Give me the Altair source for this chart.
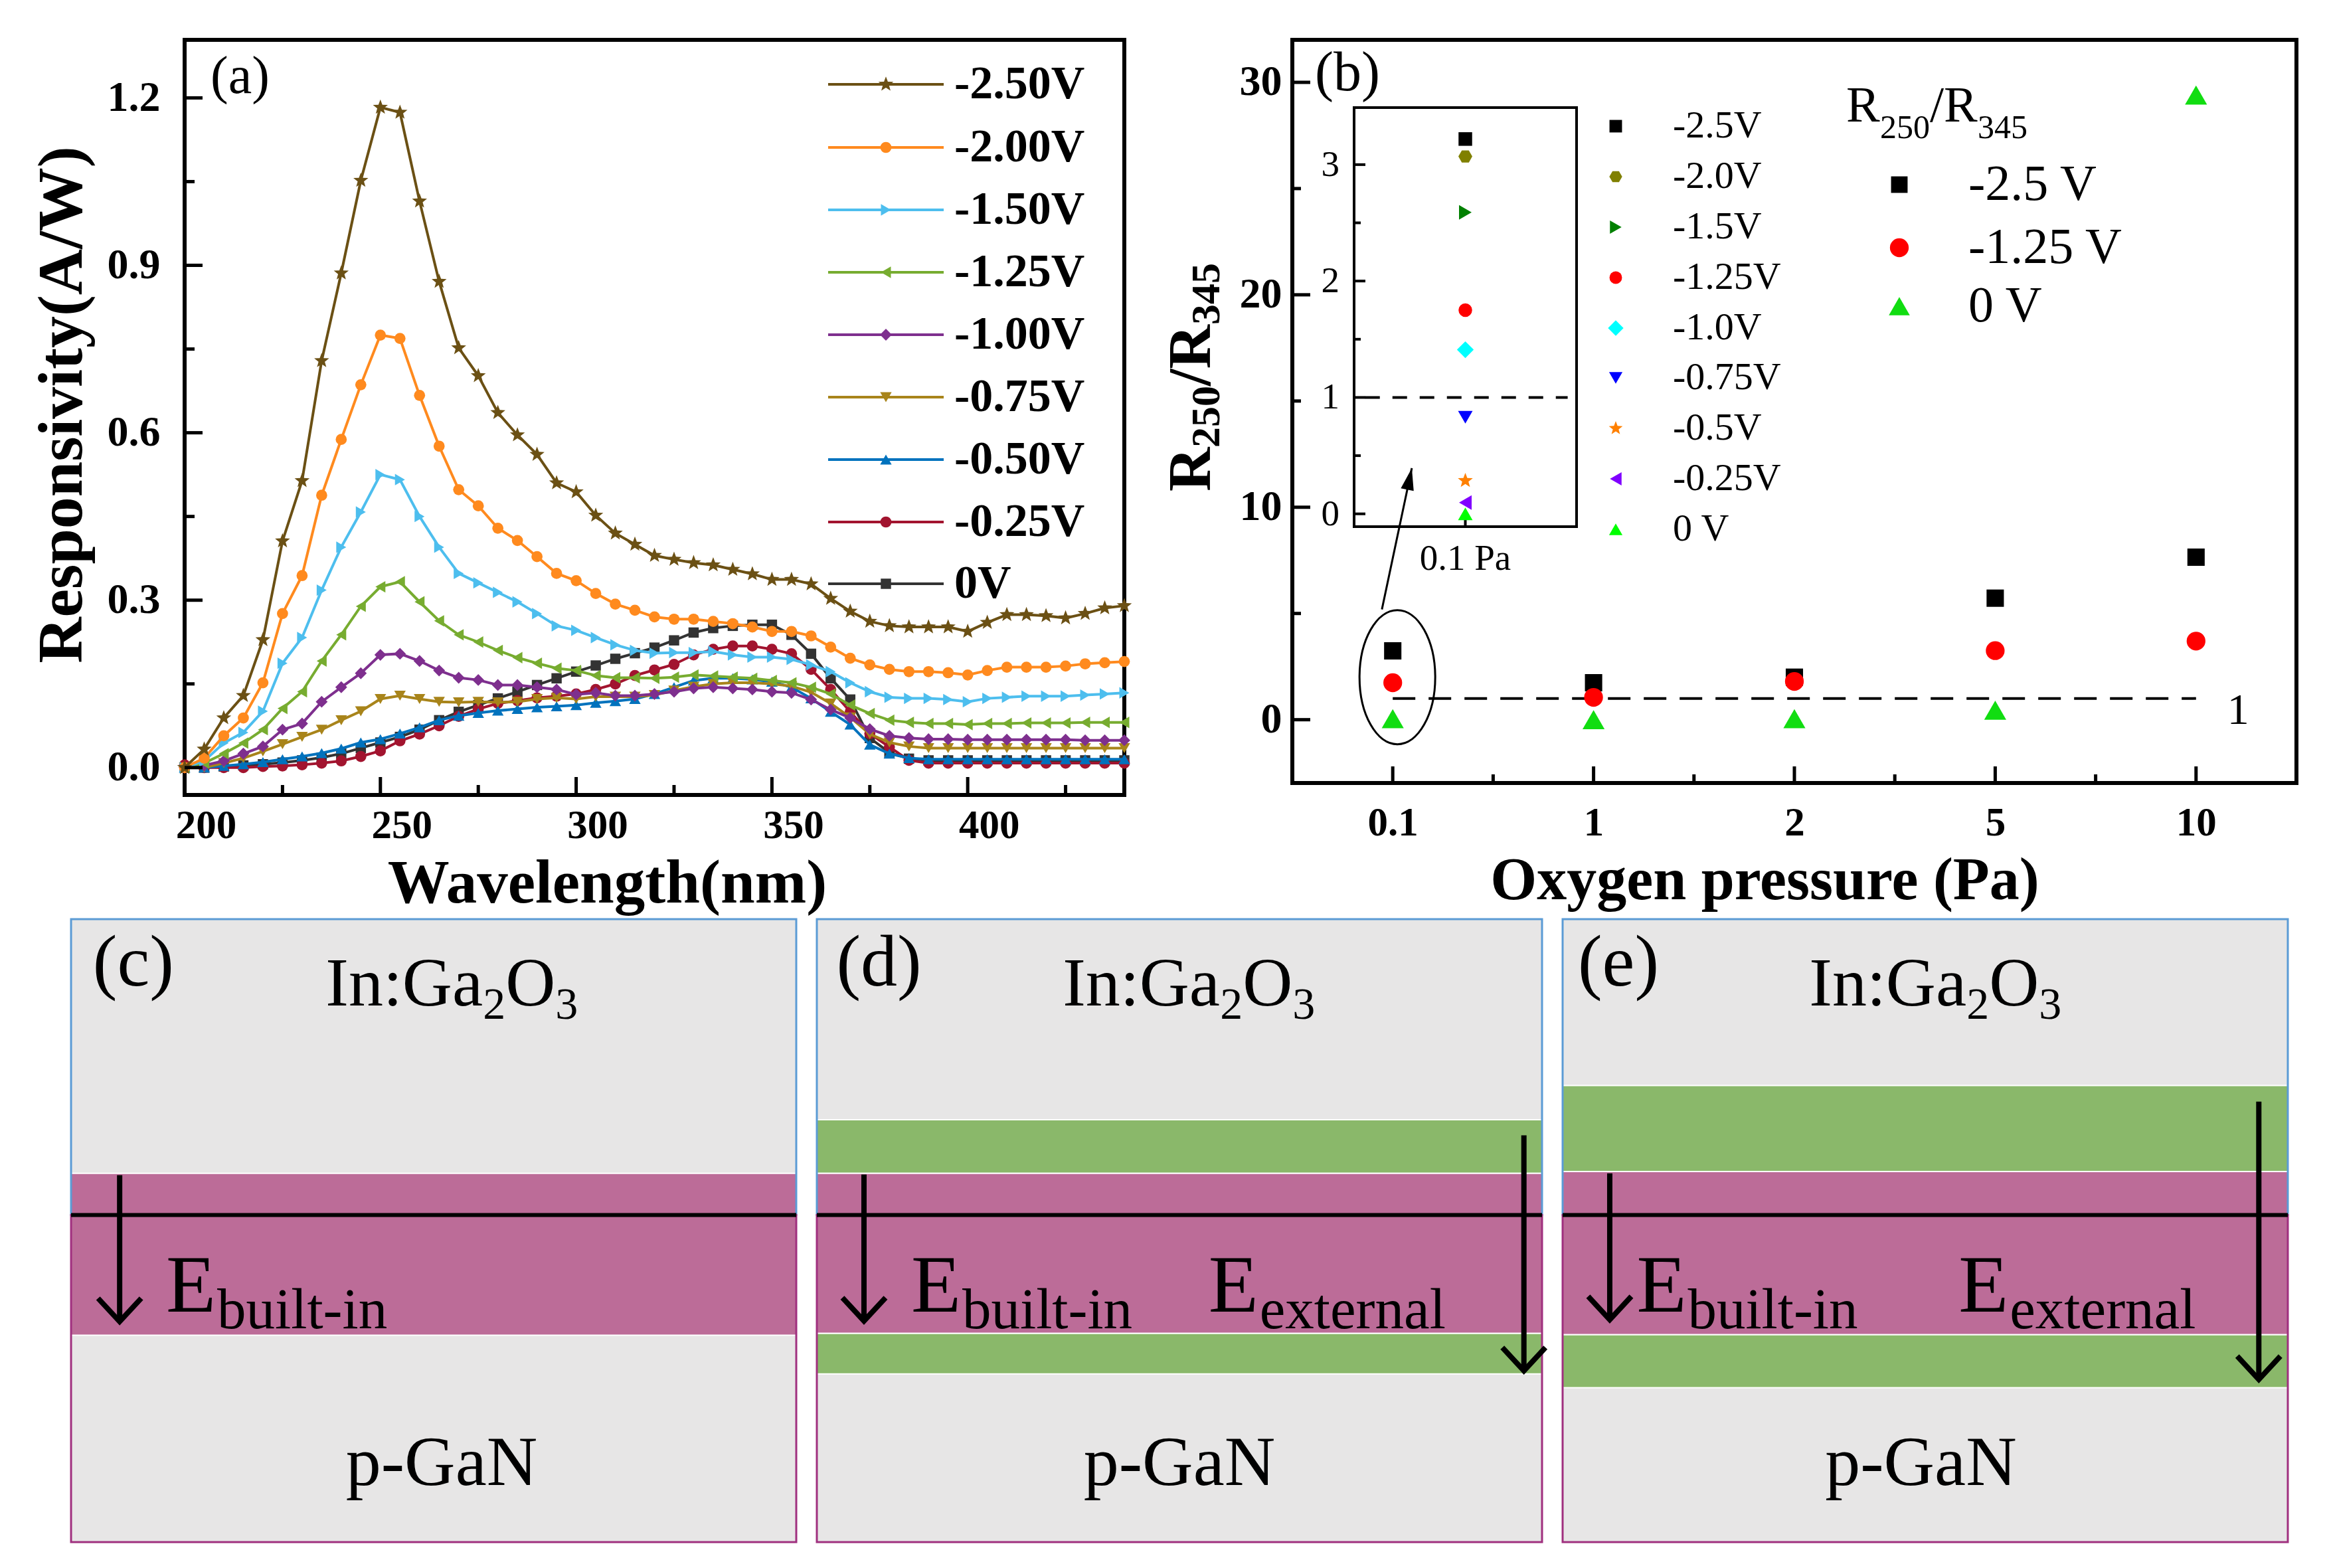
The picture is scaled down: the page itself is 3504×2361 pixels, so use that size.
import math
import altair as alt
import pandas as pd

FONT = "Liberation Serif"

# ---------------- (a) spectral responsivity data ----------------
wavelength = [200, 205, 210, 215, 220, 225, 230, 235, 240, 245, 250, 255, 260, 265, 270, 275,
              280, 285, 290, 295, 300, 305, 310, 315, 320, 325, 330, 335, 340, 345, 350, 355,
              360, 365, 370, 375, 380, 385, 390, 395, 400, 405, 410, 415, 420, 425, 430, 435, 440]
bias_labels = ["-2.50V", "-2.00V", "-1.50V", "-1.25V", "-1.00V", "-0.75V", "-0.50V", "-0.25V", "0V"]
bias_colors = ["#6B5014", "#FF8A1E", "#4DBEEE", "#77AC30", "#7E2F8E", "#A8841A", "#0072BD", "#A2142F", "#333333"]

resp_m250 = [0.000, 0.033, 0.089, 0.129, 0.229, 0.406, 0.514, 0.729, 0.886, 1.052, 1.183, 1.174,
             1.015, 0.871, 0.752, 0.702, 0.636, 0.596, 0.561, 0.510, 0.494, 0.452, 0.420, 0.400,
             0.380, 0.373, 0.367, 0.363, 0.355, 0.347, 0.337, 0.337, 0.329, 0.303, 0.280, 0.262,
             0.254, 0.252, 0.252, 0.252, 0.244, 0.260, 0.274, 0.274, 0.272, 0.268, 0.276, 0.286, 0.290]
resp_m200 = [0.000, 0.017, 0.057, 0.089, 0.152, 0.276, 0.344, 0.488, 0.588, 0.686, 0.775, 0.769,
             0.667, 0.576, 0.498, 0.469, 0.429, 0.407, 0.378, 0.348, 0.335, 0.312, 0.293, 0.282,
             0.270, 0.266, 0.266, 0.262, 0.258, 0.252, 0.244, 0.244, 0.236, 0.216, 0.196, 0.184,
             0.176, 0.172, 0.172, 0.170, 0.166, 0.174, 0.180, 0.180, 0.180, 0.182, 0.186, 0.188, 0.190]
resp_m150 = [0.000, 0.012, 0.044, 0.063, 0.101, 0.187, 0.233, 0.318, 0.395, 0.458, 0.525, 0.516,
             0.450, 0.395, 0.348, 0.331, 0.314, 0.297, 0.276, 0.254, 0.246, 0.233, 0.220, 0.210,
             0.205, 0.206, 0.206, 0.208, 0.202, 0.198, 0.198, 0.194, 0.184, 0.172, 0.152, 0.136,
             0.126, 0.124, 0.124, 0.122, 0.118, 0.124, 0.126, 0.128, 0.128, 0.128, 0.130, 0.132, 0.134]
resp_m125 = [0.000, 0.008, 0.025, 0.044, 0.068, 0.106, 0.136, 0.191, 0.238, 0.289, 0.324, 0.333,
             0.297, 0.263, 0.238, 0.225, 0.210, 0.197, 0.187, 0.178, 0.174, 0.165, 0.161, 0.161,
             0.160, 0.162, 0.166, 0.164, 0.162, 0.160, 0.156, 0.152, 0.144, 0.132, 0.112, 0.097,
             0.085, 0.081, 0.079, 0.079, 0.077, 0.079, 0.079, 0.080, 0.080, 0.080, 0.081, 0.081, 0.081]
resp_m100 = [0.000, 0.004, 0.012, 0.025, 0.038, 0.068, 0.079, 0.118, 0.144, 0.169, 0.202, 0.204,
             0.191, 0.174, 0.161, 0.157, 0.148, 0.148, 0.144, 0.140, 0.131, 0.134, 0.129, 0.129,
             0.132, 0.136, 0.142, 0.144, 0.142, 0.140, 0.136, 0.134, 0.122, 0.104, 0.089, 0.069,
             0.057, 0.053, 0.051, 0.051, 0.050, 0.050, 0.050, 0.050, 0.050, 0.050, 0.049, 0.049, 0.049]
resp_m075 = [0.000, 0.000, 0.008, 0.017, 0.029, 0.042, 0.055, 0.068, 0.085, 0.101, 0.123, 0.129,
             0.123, 0.118, 0.117, 0.118, 0.117, 0.118, 0.123, 0.125, 0.123, 0.127, 0.127, 0.127,
             0.130, 0.138, 0.145, 0.150, 0.152, 0.152, 0.150, 0.146, 0.135, 0.115, 0.090, 0.060,
             0.045, 0.038, 0.035, 0.035, 0.035, 0.035, 0.035, 0.035, 0.035, 0.035, 0.035, 0.035, 0.035]
resp_m050 = [0.000, 0.000, 0.003, 0.006, 0.010, 0.015, 0.020, 0.026, 0.034, 0.045, 0.051, 0.061,
             0.072, 0.085, 0.093, 0.098, 0.102, 0.105, 0.108, 0.110, 0.112, 0.116, 0.119, 0.123,
             0.132, 0.144, 0.156, 0.160, 0.160, 0.158, 0.154, 0.144, 0.124, 0.100, 0.077, 0.041,
             0.025, 0.017, 0.015, 0.015, 0.015, 0.015, 0.015, 0.015, 0.015, 0.015, 0.015, 0.015, 0.015]
resp_m025 = [0.005, 0.000, 0.000, 0.000, 0.002, 0.003, 0.005, 0.008, 0.012, 0.020, 0.030, 0.048,
             0.060, 0.075, 0.092, 0.105, 0.115, 0.120, 0.125, 0.128, 0.132, 0.140, 0.150, 0.165,
             0.175, 0.185, 0.202, 0.212, 0.218, 0.218, 0.212, 0.204, 0.176, 0.140, 0.100, 0.061,
             0.037, 0.013, 0.008, 0.008, 0.008, 0.008, 0.008, 0.008, 0.008, 0.008, 0.008, 0.008, 0.008]
resp_0 = [0.000, 0.000, 0.002, 0.004, 0.006, 0.009, 0.013, 0.018, 0.025, 0.035, 0.045, 0.055,
          0.068, 0.085, 0.100, 0.112, 0.124, 0.136, 0.148, 0.160, 0.172, 0.183, 0.195, 0.205,
          0.215, 0.228, 0.242, 0.250, 0.254, 0.256, 0.256, 0.238, 0.204, 0.160, 0.122, 0.053,
          0.027, 0.016, 0.013, 0.013, 0.013, 0.013, 0.013, 0.013, 0.013, 0.013, 0.013, 0.013, 0.013]
resp_series = [resp_m250, resp_m200, resp_m150, resp_m125, resp_m100, resp_m075, resp_m050, resp_m025, resp_0]

x_ticks_a = [200, 250, 300, 350, 400]
y_ticks_a = [0.0, 0.3, 0.6, 0.9, 1.2]

# ---------------- (b) ratio data ----------------
pressure_labels = ["0.1", "1", "2", "5", "10"]
pressure_index = [0, 1, 2, 3, 4]
ratio_m25 = [3.24, 1.74, 2.00, 5.72, 7.65]
ratio_m125 = [1.74, 1.05, 1.80, 3.25, 3.70]
ratio_0 = [0.05, 0.00, 0.05, 0.45, 29.4]
main_legend_labels = ["-2.5 V", "-1.25 V", "0 V"]
main_colors = ["#000000", "#FF0000", "#11DD11"]
y_ticks_b = [0, 10, 20, 30]

inset_labels = ["-2.5V", "-2.0V", "-1.5V", "-1.25V", "-1.0V", "-0.75V", "-0.5V", "-0.25V", "0 V"]
inset_values = [3.22, 3.07, 2.59, 1.75, 1.41, 0.83, 0.285, 0.097, 0.0]
inset_colors = ["#000000", "#808000", "#008000", "#FF0000", "#00FFFF", "#0000FF", "#FF8000", "#8000FF", "#00FF00"]
inset_ticks = [0, 1, 2, 3]

# ---------------- (c)-(e) schematic layers (0-100 units) ----------------
schem_tags = ["(c)", "(d)", "(e)"]
schem_tag_x = [3.0, 2.7, 2.1]
schem_top_x = [35.1, 33.9, 34.0]
schem_bottom_x = [51.1, 50.0, 49.4]
pink_bands = [(33.2, 59.2), (33.5, 59.2), (33.3, 59.5)]
green_upper = [None, (59.2, 67.8), (59.5, 73.3)]
green_lower = [None, (27.0, 33.5), (24.8, 33.3)]
interface_y = 52.5
builtin_arrows = [(6.7, 58.9, 35.4), (6.5, 59.0, 35.5), (6.5, 59.2, 35.7)]
external_arrows = [None, (97.5, 65.3, 27.5), (96.0, 70.7, 26.1)]
builtin_text_x = [13.1, 13.0, 10.2]
external_text_x = [None, 54.0, 54.6]

GRAY = "#E7E6E6"
PINK = "#BC6C98"
GREEN = "#8AB86A"
BLUE_EDGE = "#5B9BD5"
PURPLE_EDGE = "#A0307F"


# ---------------- marker shapes ----------------
def star_path(points=5, inner=0.42):
    coords = []
    for k in range(points * 2):
        r = 1.0 if k % 2 == 0 else inner
        ang = -math.pi / 2 + k * math.pi / points
        coords.append(f"{r * math.cos(ang):.3f},{r * math.sin(ang):.3f}")
    return "M" + "L".join(coords) + "Z"


def hex_path():
    coords = []
    for k in range(6):
        ang = k * math.pi / 3
        coords.append(f"{math.cos(ang):.3f},{math.sin(ang):.3f}")
    return "M" + "L".join(coords) + "Z"


STAR = star_path()
HEX = hex_path()
CHEVRON = "M-1,-1.08L0,0L1,-1.08"
ARROWHEAD = "M0,0L-0.45,1.5L0.45,1.5Z"
ELLIPSE = "M-1,0A1,1.772,0,1,1,1,0A1,1.772,0,1,1,-1,0Z"

shapes_a = [STAR, "circle", "triangle-right", "triangle-left", "diamond", "triangle-down", "triangle-up", "circle", "square"]
sizes_a = [560, 280, 300, 300, 320, 300, 300, 280, 240]
shapes_main_b = ["square", "circle", "triangle-up"]
sizes_main_b = [680, 800, 1100]
shapes_inset = ["square", HEX, "triangle-right", "circle", "diamond", "triangle-down", STAR, "triangle-left", "triangle-up"]
sizes_inset = [420, 440, 480, 420, 640, 480, 560, 480, 480]


def one(**kw):
    return pd.DataFrame({k: [v] for k, v in kw.items()})


def px_text(text, x, y, size, weight="normal", align="left", baseline="alphabetic", angle=0, dx=0, dy=0):
    return alt.Chart(one(t=text)).mark_text(
        font=FONT, fontSize=size, fontWeight=weight, align=align, baseline=baseline,
        angle=angle, dx=dx, dy=dy, color="black"
    ).encode(x=alt.value(x), y=alt.value(y), text="t:N")


def spacer(w, h):
    return alt.Chart(one(v=0)).mark_point(opacity=0).encode(
        x=alt.value(0), y=alt.value(0)).properties(width=w, height=h)


class Pos:
    """x/y encoders bound to one scale and one axis definition (shared by every layer)."""

    def __init__(self, xscale, yscale, xaxis=None, yaxis=None):
        self.xs, self.ys, self.xa, self.ya = xscale, yscale, xaxis, yaxis

    def X(self, f):
        return alt.X(f, scale=self.xs, axis=self.xa)

    def Y(self, f):
        return alt.Y(f, scale=self.ys, axis=self.ya)


def data_text(text, x, y, P, size, weight="normal", align="left", baseline="alphabetic", dx=0, dy=0):
    return alt.Chart(one(t=text, x=x, y=y)).mark_text(
        font=FONT, fontSize=size, fontWeight=weight, align=align, baseline=baseline,
        dx=dx, dy=dy, color="black"
    ).encode(x=P.X("x:Q"), y=P.Y("y:Q"), text="t:N")


def xtick_layer(values, P, length, h):
    return alt.Chart(pd.DataFrame({"t": values})).mark_rule(color="black", strokeWidth=5).encode(
        x=P.X("t:Q"), y=alt.value(h), y2=alt.value(h - length))


def ytick_layer(values, P, length, x0=0):
    return alt.Chart(pd.DataFrame({"t": values})).mark_rule(color="black", strokeWidth=5).encode(
        y=P.Y("t:Q"), x=alt.value(x0), x2=alt.value(x0 + length))


# ================= Panel (a) =================
W_A, H_A = 1415, 1137
xs_a = alt.Scale(domain=[200, 440], nice=False, zero=False)
ys_a = alt.Scale(domain=[-0.049, 1.304], nice=False, zero=False)
axis_x_a = alt.Axis(values=x_ticks_a, title="Wavelength(nm)", labelFont=FONT, labelFontSize=61,
                    labelFontWeight="bold", labelColor="black", labelPadding=16, labelOffset=32,
                    labelFlush=False, ticks=False, domain=False, grid=False, titleFont=FONT,
                    titleFontSize=93, titleFontWeight="bold", titleColor="black", titleX=636,
                    titleY=161, titleBaseline="alphabetic")
axis_y_a = alt.Axis(values=y_ticks_a, format=".1f", title="Responsivity(A/W)", labelFont=FONT,
                    labelFontSize=64, labelFontWeight="bold", labelColor="black", labelPadding=37,
                    ticks=False, domain=False, grid=False, titleFont=FONT, titleFontSize=96,
                    titleFontWeight="bold", titleColor="black", titleX=-156, titleY=549,
                    titleAngle=270, titleBaseline="alphabetic", titleAlign="center")
PA = Pos(xs_a, ys_a, axis_x_a, axis_y_a)

rows = []
for name, vals in zip(bias_labels, resp_series):
    for w, v in zip(wavelength, vals):
        rows.append({"bias": name, "wl": w, "resp": v})
df_a = pd.DataFrame(rows)

a_layers = []
for i in reversed(range(len(bias_labels))):
    name, col, shp, sz = bias_labels[i], bias_colors[i], shapes_a[i], sizes_a[i]
    base = alt.Chart(df_a).transform_filter(alt.datum.bias == name)
    a_layers.append(base.mark_line(color=col, strokeWidth=4).encode(x=PA.X("wl:Q"), y=PA.Y("resp:Q")))
    a_layers.append(base.mark_point(shape=shp, size=sz, color=col, filled=True, opacity=1).encode(
        x=PA.X("wl:Q"), y=PA.Y("resp:Q")))

a_layers += [
    xtick_layer([250, 300, 350, 400], PA, 27, H_A),
    xtick_layer([225, 275, 325, 375, 425], PA, 15, H_A),
    ytick_layer(y_ticks_a, PA, 27),
    ytick_layer([0.15, 0.45, 0.75, 1.05], PA, 15),
]

legend_a_y = [67, 162, 256, 350, 444, 538, 632, 726, 819]
for name, col, shp, sz, yy in zip(bias_labels, bias_colors, shapes_a, sizes_a, legend_a_y):
    a_layers.append(alt.Chart(one(t=name)).mark_rule(color=col, strokeWidth=4).encode(
        x=alt.value(969), x2=alt.value(1143), y=alt.value(yy)))
    a_layers.append(alt.Chart(one(t=name)).mark_point(shape=shp, size=sz, color=col, filled=True, opacity=1).encode(
        x=alt.value(1056), y=alt.value(yy)))
    a_layers.append(px_text(name, 1159, yy, 70, weight="bold", baseline="middle"))

a_layers.append(px_text("(a)", 39, 80, 80))

panel_a = alt.layer(*a_layers).properties(
    width=W_A, height=H_A, view=alt.ViewBackground(stroke="black", strokeWidth=6))

# ================= Panel (b) =================
W_B, H_B = 1512, 1119
xs_b = alt.Scale(domain=[-0.5, 4.5], nice=False, zero=False)
ys_b = alt.Scale(domain=[-2.98, 32.0], nice=False, zero=False)
label_expr = "[" + ",".join(f"'{s}'" for s in pressure_labels) + "][datum.value]"
axis_x_b = alt.Axis(values=pressure_index, labelExpr=label_expr, title="Oxygen pressure (Pa)",
                    labelFont=FONT, labelFontSize=61, labelFontWeight="bold", labelColor="black",
                    labelPadding=30, labelFlush=False, ticks=False, domain=False, grid=False,
                    titleFont=FONT, titleFontSize=90, titleFontWeight="bold", titleColor="black",
                    titleX=711, titleY=174, titleBaseline="alphabetic")
axis_y_b = alt.Axis(values=y_ticks_b, format="d", title="", labelFont=FONT, labelFontSize=64,
                    labelFontWeight="bold", labelColor="black", labelPadding=16, ticks=False,
                    domain=False, grid=False)
PB = Pos(xs_b, ys_b, axis_x_b, axis_y_b)

df_b = pd.DataFrame({"idx": pressure_index, "m25": ratio_m25, "m125": ratio_m125, "zero": ratio_0})
b_main = []
b_main.append(alt.Chart(one(x=0, x2=4, y=1)).mark_rule(color="black", strokeWidth=4, strokeDash=[34, 20]).encode(
    x=PB.X("x:Q"), x2="x2:Q", y=PB.Y("y:Q")))
for fld, col, shp, sz in zip(["m25", "m125", "zero"], main_colors, shapes_main_b, sizes_main_b):
    b_main.append(alt.Chart(df_b).mark_point(shape=shp, size=sz, color=col, filled=True, opacity=1).encode(
        x=PB.X("idx:Q"), y=PB.Y(f"{fld}:Q")))
# ellipse around the 0.1 Pa points and arrow to the inset
b_main.append(alt.Chart(one(x=0.023, y=2.0)).mark_point(shape=ELLIPSE, size=12996, color="black",
                                                       strokeWidth=3, filled=False, opacity=1).encode(
    x=PB.X("x:Q"), y=PB.Y("y:Q")))
b_main.append(alt.Chart(one(x=-0.054, y=5.19, x2=0.095, y2=11.84)).mark_rule(color="black", strokeWidth=3).encode(
    x=PB.X("x:Q"), y=PB.Y("y:Q"), x2="x2:Q", y2="y2:Q"))
b_main.append(alt.Chart(one(x=0.095, y=11.84)).mark_point(shape=ARROWHEAD, size=1936, angle=12, color="black",
                                                         filled=True, opacity=1).encode(
    x=PB.X("x:Q"), y=PB.Y("y:Q")))
b_main += [
    xtick_layer(pressure_index, PB, 25, H_B),
    xtick_layer([0.5, 1.5, 2.5, 3.5], PB, 13, H_B),
    ytick_layer(y_ticks_b, PB, 27),
    ytick_layer([5, 15, 25], PB, 13),
]
b_main.append(data_text("1", 4.21, 0.43, PB, 66, align="center", baseline="middle"))
b_main.append(px_text("(b)", 34, 76, 84))
# vertical axis title R250/R345
b_main += [
    px_text("R", -124, 680, 92, weight="bold", angle=270),
    px_text("250", -110, 614, 62, weight="bold", angle=270),
    px_text("/R", -124, 521, 92, weight="bold", angle=270),
    px_text("345", -110, 429, 62, weight="bold", angle=270),
]
# main legend
b_main += [
    px_text("R", 834, 123, 76),
    px_text("250", 834, 123, 50, dx=51, dy=25),
    px_text("/R", 834, 123, 76, dx=126),
    px_text("345", 834, 123, 50, dx=198, dy=25),
]
for lab, col, shp, yy, sz in zip(main_legend_labels, main_colors, shapes_main_b, [218, 313, 401], [620, 800, 1000]):
    b_main.append(alt.Chart(one(t=lab)).mark_point(shape=shp, size=sz, color=col, filled=True, opacity=1).encode(
        x=alt.value(914), y=alt.value(yy)))
    b_main.append(px_text(lab, 1018, yy, 76, baseline="middle"))
# inset legend
inset_leg_y = [130, 206, 282, 358, 434, 509, 585, 661, 737]
for lab, col, shp, sz, yy in zip(inset_labels, inset_colors, shapes_inset, sizes_inset, inset_leg_y):
    b_main.append(alt.Chart(one(t=lab)).mark_point(shape=shp, size=int(sz * 0.85), color=col, filled=True, opacity=1).encode(
        x=alt.value(487), y=alt.value(yy)))
    b_main.append(px_text(lab, 573, yy, 58, baseline="middle"))

group_b_main = alt.layer(*b_main)

# inset (its own scales mapped to a pixel box)
xs_in = alt.Scale(domain=[0, 1], range=[93, 428], nice=False, zero=False)
ys_in = alt.Scale(domain=[-0.11, 3.49], range=[733, 102], nice=False, zero=False)
PI = Pos(xs_in, ys_in)
b_in = []
b_in.append(alt.Chart(one(x=0, x2=1, y=-0.11, y2=3.49)).mark_rect(fillOpacity=0, stroke="black", strokeWidth=4).encode(
    x=PI.X("x:Q"), x2="x2:Q", y=PI.Y("y:Q"), y2="y2:Q"))
b_in.append(alt.Chart(one(x=0.05, x2=0.96, y=1)).mark_rule(color="black", strokeWidth=4, strokeDash=[22, 19]).encode(
    x=PI.X("x:Q"), x2="x2:Q", y=PI.Y("y:Q")))
b_in.append(alt.Chart(pd.DataFrame({"t": inset_ticks})).mark_rule(color="black", strokeWidth=4).encode(
    y=PI.Y("t:Q"), x=alt.value(93), x2=alt.value(110)))
b_in.append(alt.Chart(pd.DataFrame({"t": [0.5, 1.5, 2.5]})).mark_rule(color="black", strokeWidth=4).encode(
    y=PI.Y("t:Q"), x=alt.value(93), x2=alt.value(103)))
b_in.append(alt.Chart(one(x=0.5)).mark_rule(color="black", strokeWidth=4).encode(
    x=PI.X("x:Q"), y=alt.value(733), y2=alt.value(718)))
b_in.append(alt.Chart(pd.DataFrame({"t": inset_ticks, "s": [str(v) for v in inset_ticks]})).mark_text(
    font=FONT, fontSize=55, align="right", baseline="middle", color="black").encode(
    x=alt.value(71), y=PI.Y("t:Q"), text="s:N"))
b_in.append(alt.Chart(one(x=0.5, t="0.1 Pa")).mark_text(font=FONT, fontSize=55, align="center",
                                                       baseline="alphabetic", color="black").encode(
    x=PI.X("x:Q"), y=alt.value(798), text="t:N"))
for lab, val, col, shp, sz in zip(inset_labels, inset_values, inset_colors, shapes_inset, sizes_inset):
    b_in.append(alt.Chart(one(x=0.5, v=val)).mark_point(shape=shp, size=sz, color=col, filled=True, opacity=1).encode(
        x=PI.X("x:Q"), y=PI.Y("v:Q")))
group_b_inset = alt.layer(*b_in)

panel_b = alt.layer(group_b_main, group_b_inset).resolve_scale(x="independent", y="independent").properties(
    width=W_B, height=H_B, view=alt.ViewBackground(stroke="black", strokeWidth=6))


# ================= Panels (c)-(e) =================
W_S, H_S = 1092, 938


def schematic(i):
    P = Pos(alt.Scale(domain=[0, 100], nice=False, zero=False),
            alt.Scale(domain=[0, 100], nice=False, zero=False))

    def rect(y1, y2, **kw):
        return alt.Chart(one(x=0, x2=100, y=y1, y2=y2)).mark_rect(**kw).encode(
            x=P.X("x:Q"), x2="x2:Q", y=P.Y("y:Q"), y2="y2:Q")

    def arrow(spec):
        x, top, tip = spec
        d = one(x=x, y=top, y2=tip)
        shaft = alt.Chart(d).mark_rule(color="black", strokeWidth=8).encode(
            x=P.X("x:Q"), y=P.Y("y:Q"), y2="y2:Q")
        head = alt.Chart(d).mark_point(shape=CHEVRON, size=4225, color="black", strokeWidth=8,
                                       filled=False, opacity=1).encode(x=P.X("x:Q"), y=P.Y("y2:Q"))
        return [shaft, head]

    L = [rect(0, 100, color=GRAY)]
    if green_upper[i]:
        L.append(rect(*green_upper[i], fill=GREEN, stroke="white", strokeWidth=2))
    L.append(rect(*pink_bands[i], fill=PINK, stroke="white", strokeWidth=2))
    if green_lower[i]:
        L.append(rect(*green_lower[i], fill=GREEN, stroke="white", strokeWidth=2))
    L.append(rect(interface_y, 100, fillOpacity=0, stroke=BLUE_EDGE, strokeWidth=3))
    L.append(rect(0, interface_y, fillOpacity=0, stroke=PURPLE_EDGE, strokeWidth=3))
    L.append(alt.Chart(one(x=0, x2=100, y=interface_y)).mark_rule(color="black", strokeWidth=6).encode(
        x=P.X("x:Q"), x2="x2:Q", y=P.Y("y:Q")))
    L += arrow(builtin_arrows[i])
    if external_arrows[i]:
        L += arrow(external_arrows[i])
    L.append(data_text(schem_tags[i], schem_tag_x[i], 89.3, P, 110))
    tx = schem_top_x[i]
    L += [
        data_text("In:Ga", tx, 86.1, P, 104),
        data_text("2", tx, 86.1, P, 68, dx=237, dy=20),
        data_text("O", tx, 86.1, P, 104, dx=271),
        data_text("3", tx, 86.1, P, 68, dx=346, dy=20),
    ]
    L.append(data_text("p-GaN", schem_bottom_x[i], 9.2, P, 106, align="center"))
    L += [
        data_text("E", builtin_text_x[i], 37.0, P, 123),
        data_text("built-in", builtin_text_x[i], 37.0, P, 87, dx=77, dy=25),
    ]
    if external_text_x[i] is not None:
        L += [
            data_text("E", external_text_x[i], 37.0, P, 123),
            data_text("external", external_text_x[i], 37.0, P, 87, dx=77, dy=25),
        ]
    return alt.layer(*L).properties(width=W_S, height=H_S)


panel_c, panel_d, panel_e = schematic(0), schematic(1), schematic(2)

top = alt.hconcat(spacer(246, H_A), panel_a, spacer(253, H_A), panel_b, spacing=0, bounds="flush")
bottom = alt.hconcat(spacer(44, H_S), panel_c, panel_d, panel_e, spacing=31, bounds="flush")
chart = alt.vconcat(top, bottom, spacing=0, bounds="full").properties(
    padding={"left": 20, "top": 48, "right": 10, "bottom": 10}, background="white"
).configure_view(stroke="transparent")

chart.save("out.html", embed_options={"renderer": "svg", "actions": False})
